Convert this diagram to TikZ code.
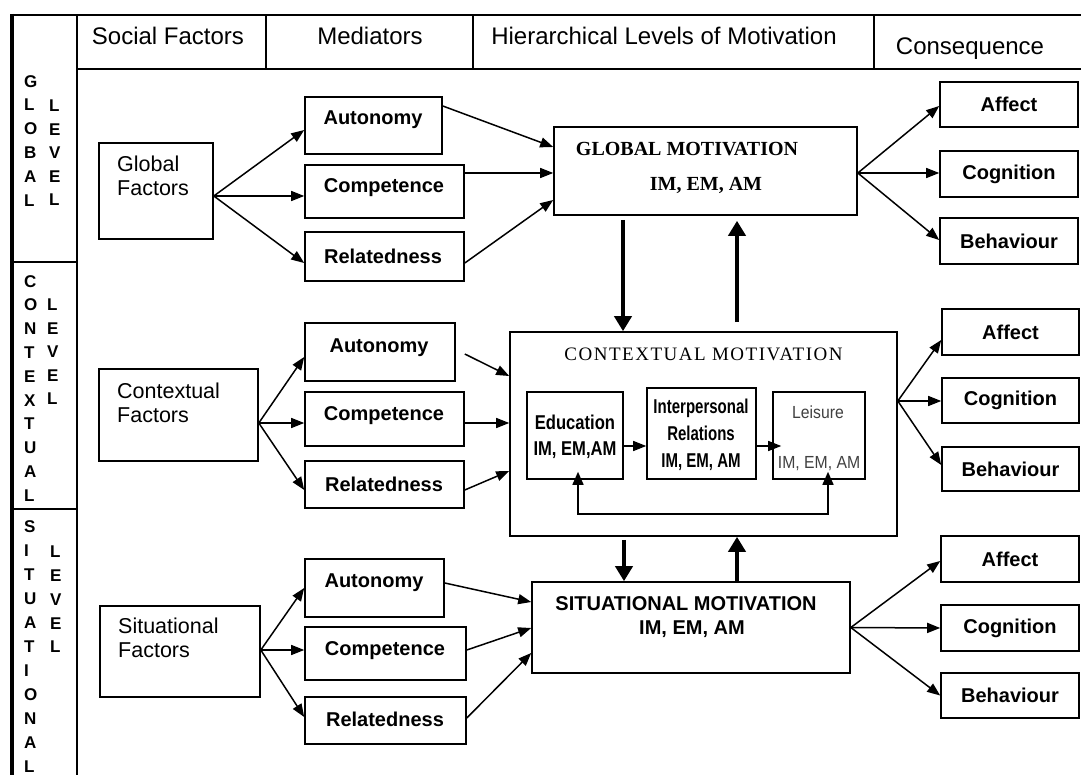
\documentclass[tikz,border=0pt]{standalone}
\usepackage{fontspec}
\setmainfont{Liberation Sans}
\newfontfamily\serifface{Liberation Serif}
\newfontfamily\spacedserif[LetterSpace=8]{Liberation Serif}
\newfontfamily\narrowface[FakeStretch=0.75]{Liberation Sans}
\newfontfamily\eduface[FakeStretch=0.83]{Liberation Sans}
\newfontfamily\leisface[FakeStretch=0.9]{Liberation Sans}
\usetikzlibrary{arrows.meta}

\tikzset{
  rule/.style={line width=1.6pt},
  bx/.style={draw, line width=1.6pt, inner sep=0pt},
  txt/.style={inner sep=0pt},
  hdr/.style={txt, font={\fontsize{24}{28}\selectfont}},
  lvl/.style={txt, align=left, font={\fontsize{17}{23.8}\selectfont\bfseries}},
  fac/.style={txt, align=left, font={\fontsize{21.5}{24}\selectfont}},
  med/.style={txt, font={\fontsize{20}{24}\selectfont\bfseries}},
  cons/.style={bx, minimum width=138pt, minimum height=46pt, font={\fontsize{20}{24}\selectfont\bfseries}},
  arr/.style={line width=1.5pt, -{Triangle[length=13pt,width=10pt]}},
  big/.style={line width=4.5pt, -{Triangle[length=15pt,width=17pt]}},
}

\begin{document}
\begin{tikzpicture}[x=1pt, y=-1pt]
\useasboundingbox (0,0) rectangle (1081,775);

% table frame
\draw[line width=2.5pt] (10,15) -- (1081,15);
\draw[line width=4pt] (12,14) -- (12,775);
\draw[rule] (77,15) -- (77,775);
\draw[rule] (77,69) -- (1081,69);
\foreach \xx in {266,473,874} \draw[rule] (\xx,15) -- (\xx,69);
\draw[rule] (12,262) -- (77,262);
\draw[rule] (12,509) -- (77,509);

% column headings
\node[hdr] (h1) at (168,36) {Social Factors};
\node[hdr] (h2) at (370,36) {Mediators};
\node[hdr] (h3) at (664,36) {Hierarchical Levels of Motivation};
\node[hdr] (h4) at (970,49) {Consequence};

% level names down the left column
\node[lvl, anchor=north west] (lg1) at (24,75) {G\\L\\O\\B\\A\\L};
\node[lvl, anchor=north west, font={\fontsize{17}{23.5}\selectfont\bfseries}] (lg2) at (49,100) {L\\E\\V\\E\\L};
\node[lvl, anchor=north west] (lc1) at (24,275) {C\\O\\N\\T\\E\\X\\T\\U\\A\\L};
\node[lvl, anchor=north west, font={\fontsize{17}{23.5}\selectfont\bfseries}] (lc2) at (47,299) {L\\E\\V\\E\\L};
\node[lvl, anchor=north west, font={\fontsize{17}{24}\selectfont\bfseries}] (ls1) at (24,520) {S\\I\\T\\U\\A\\T\\I\\O\\N\\A\\L};
\node[lvl, anchor=north west, font={\fontsize{17}{23.75}\selectfont\bfseries}] (ls2) at (50,546) {L\\E\\V\\E\\L};

% ---------------- global level ----------------
\node[bx, minimum width=114pt, minimum height=96pt] (gf) at (156,191) {};
\node[fac, anchor=west] (gft) at (117,176) {Global\\Factors};
\node[bx, minimum width=137pt, minimum height=57pt] (gaut) at (373.5,125.5) {};
\node[med] (gautt) at (373,120) {Autonomy};
\node[bx, minimum width=159pt, minimum height=53pt] (gcomp) at (384.5,191.5) {};
\node[med] (gcompt) at (384,188) {Competence};
\node[bx, minimum width=159pt, minimum height=49pt] (grel) at (384.5,256.5) {};
\node[med] (grelt) at (383,256) {Relatedness};

\node[bx, minimum width=303pt, minimum height=88pt] (gm) at (705.5,171) {};
\node[txt, font={\fontsize{20}{22}\selectfont\serifface\bfseries}] (gmt1) at (687,149) {GLOBAL MOTIVATION};
\node[txt, font={\fontsize{20}{22}\selectfont\serifface\bfseries}] (gmt2) at (706,185) {IM, EM, AM};

\node[cons, minimum height=45pt] (gaff) at (1009,104.5) {Affect};
\node[cons] (gcog) at (1009,174) {Cognition};
\node[cons] (gbeh) at (1009,241) {Behaviour};

\draw[arr] ([yshift=-5pt]gf.east) -- ([yshift=-4.5pt]gaut.west);
\draw[arr] ([yshift=-5pt]gf.east) -- ([yshift=-4.5pt]gcomp.west);
\draw[arr] ([yshift=-5pt]gf.east) -- ([yshift=-6.5pt]grel.west);
\draw[arr] ([yshift=19.5pt]gaut.east) -- ([yshift=24pt]gm.west);
\draw[arr] ([yshift=18.5pt]gcomp.east) -- ([yshift=-2pt]gm.west);
\draw[arr] ([yshift=-6.5pt]grel.east) -- ([yshift=-29pt]gm.west);
\draw[arr] ([yshift=-2pt]gm.east) -- ([yshift=-1.5pt]gaff.west);
\draw[arr] ([yshift=-2pt]gm.east) -- ([yshift=1pt]gcog.west);
\draw[arr] ([yshift=-2pt]gm.east) -- ([yshift=1pt]gbeh.west);

% ---------------- contextual level ----------------
\node[bx, minimum width=159pt, minimum height=92pt] (cf) at (178.5,415) {};
\node[fac, anchor=west] (cft) at (117,402.5) {Contextual\\Factors};
\node[bx, minimum width=150pt, minimum height=58pt] (caut) at (380,352) {};
\node[med] (cautt) at (379,348) {Autonomy};
\node[bx, minimum width=159pt, minimum height=54pt] (ccomp) at (384.5,419) {};
\node[med] (ccompt) at (384,416) {Competence};
\node[bx, minimum width=159pt, minimum height=47pt] (crel) at (384.5,484.5) {};
\node[med] (crelt) at (384,484) {Relatedness};

\node[bx, minimum width=387pt, minimum height=204pt] (cm) at (703.5,434) {};
\node[txt, font={\fontsize{19}{22}\selectfont\spacedserif}] (cmt) at (703.5,354) {CONTEXTUAL MOTIVATION};

\node[bx, minimum width=96pt, minimum height=87pt] (edu) at (575,435.5) {};
\node[txt, align=center, font={\fontsize{20}{26}\selectfont\eduface\bfseries}] (edut) at (575,437) {Education\\IM, EM,AM};
\node[bx, minimum width=109pt, minimum height=91pt] (inter) at (701.5,433.5) {};
\node[txt, align=center, font={\fontsize{20}{27}\selectfont\narrowface\bfseries}] (intert) at (701,435) {Interpersonal\\Relations\\IM, EM, AM};
\node[bx, minimum width=92pt, minimum height=87pt] (leis) at (819,435.5) {};
\node[txt, text=black!75, font={\fontsize{17.5}{22}\selectfont\leisface}] (leist1) at (818,412) {Leisure};
\node[txt, text=black!75, font={\fontsize{17.5}{22}\selectfont\leisface}] (leist2) at (819,464) {IM, EM, AM};

\node[cons, minimum width=137pt] (caff) at (1010.5,332) {Affect};
\node[cons, minimum width=137pt, minimum height=45pt] (ccog) at (1010.5,400.5) {Cognition};
\node[cons, minimum width=137pt, minimum height=44pt] (cbeh) at (1010.5,469) {Behaviour};

\draw[arr] ([yshift=-8pt]cf.east) -- ([yshift=-5pt]caut.west);
\draw[arr] ([yshift=-8pt]cf.east) -- ([yshift=-4pt]ccomp.west);
\draw[arr] ([yshift=-8pt]cf.east) -- ([yshift=-5.5pt]crel.west);
\draw[arr] ([xshift=9pt,yshift=-2pt]caut.east) -- ([yshift=58pt]cm.west);
\draw[arr] ([yshift=-4pt]ccomp.east) -- ([yshift=11pt]cm.west);
\draw[arr] ([yshift=-5.5pt]crel.east) -- ([yshift=-37pt]cm.west);
\draw[arr] ([yshift=-10.5pt]edu.east) -- ([yshift=-12.5pt]inter.west);
\draw[arr] ([yshift=-12.5pt]inter.east) -- ([xshift=9pt,yshift=-10.5pt]leis.west);
\draw[line width=1.5pt, {Triangle[length=13pt,width=11pt]}-{Triangle[length=13pt,width=11pt]}, shorten <=-8pt, shorten >=-8pt]
  ([xshift=3pt]edu.south) -- ++(0,34) -| ([xshift=9pt]leis.south);
\draw[arr] ([yshift=33pt]cm.east) -- ([yshift=-8pt]caff.west);
\draw[arr] ([yshift=33pt]cm.east) -- ([yshift=-0.5pt]ccog.west);
\draw[arr] ([yshift=33pt]cm.east) -- ([yshift=4pt]cbeh.west);

% links between global and contextual motivation
\draw[big] ([xshift=-82.5pt,yshift=-4pt]gm.south) -- ([xshift=-80.5pt]cm.north);
\draw[big] ([xshift=33.5pt,yshift=9pt]cm.north) -- ([xshift=31.5pt,yshift=-5pt]gm.south);

% ---------------- situational level ----------------
\node[bx, minimum width=160pt, minimum height=91pt] (sf) at (180,651.5) {};
\node[fac, anchor=west] (sft) at (118,638) {Situational\\Factors};
\node[bx, minimum width=139pt, minimum height=58pt] (saut) at (374.5,588) {};
\node[med] (sautt) at (374,583) {Autonomy};
\node[bx, minimum width=161pt, minimum height=53pt] (scomp) at (385.5,653.5) {};
\node[med] (scompt) at (385,651) {Competence};
\node[bx, minimum width=161pt, minimum height=47pt] (srel) at (385.5,720.5) {};
\node[med] (srelt) at (385,719) {Relatedness};

\node[bx, minimum width=318pt, minimum height=91pt] (sm) at (691,627.5) {};
\node[txt, font={\fontsize{20}{24}\selectfont\bfseries}] (smt1) at (686,604) {SITUATIONAL MOTIVATION};
\node[txt, font={\fontsize{20}{24}\selectfont\bfseries}] (smt2) at (692,629) {IM, EM, AM};

\node[cons] (saff) at (1010,559) {Affect};
\node[cons] (scog) at (1010,628) {Cognition};
\node[cons, minimum height=45pt] (sbeh) at (1010,695.5) {Behaviour};

\draw[arr] ([yshift=1.5pt]sf.east) -- (saut.west);
\draw[arr] ([yshift=1.5pt]sf.east) -- ([yshift=3.5pt]scomp.west);
\draw[arr] ([yshift=1.5pt]sf.east) -- ([yshift=3.5pt]srel.west);
\draw[arr] ([yshift=5pt]saut.east) -- ([yshift=25.5pt]sm.west);
\draw[arr] ([yshift=3.5pt]scomp.east) -- ([yshift=-0.5pt]sm.west);
\draw[arr] ([yshift=2.5pt]srel.east) -- ([yshift=-25.5pt]sm.west);
\draw[arr] (sm.east) -- ([yshift=-2pt]saff.west);
\draw[arr] (sm.east) -- (scog.west);
\draw[arr] (sm.east) -- (sbeh.west);

% links between contextual and situational motivation
\draw[big] ([xshift=-79.5pt,yshift=-3pt]cm.south) -- ([xshift=-67pt]sm.north);
\draw[big] ([xshift=46pt]sm.north) -- ([xshift=33.5pt]cm.south);
\end{tikzpicture}
\end{document}
